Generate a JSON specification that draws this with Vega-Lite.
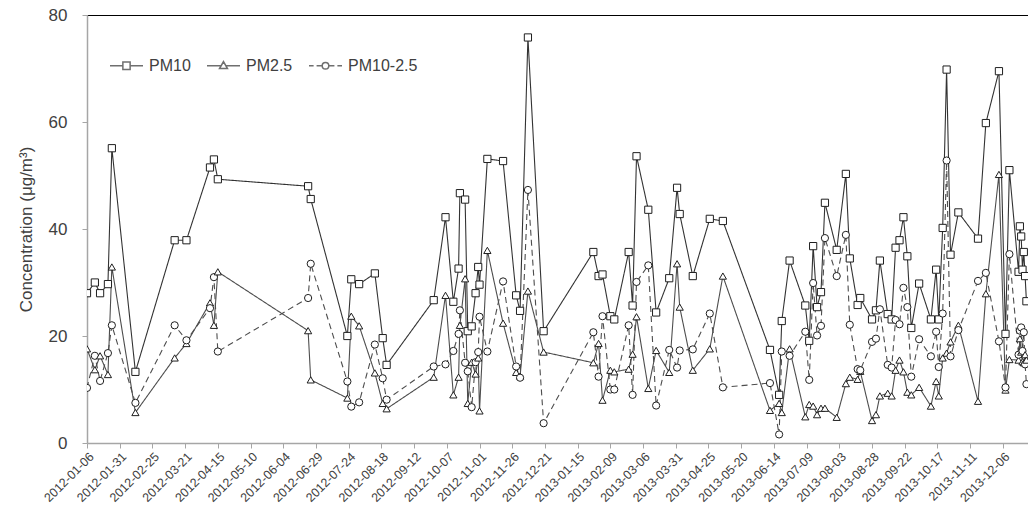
{
  "$schema": "https://vega.github.io/schema/vega-lite/v6.json",
  "width": 941,
  "height": 428,
  "autosize": "none",
  "padding": {"left": 87, "top": 15, "right": 0, "bottom": 74},
  "background": "white",
  "config": {"view": {"stroke": null}, "font": "Liberation Sans"},
  "data": {
    "values": [
      {"date": "2012-01-06", "PM10": 28.0, "PM25": 17.6, "PMc": 10.3},
      {"date": "2012-01-12", "PM10": 30.0, "PM25": 13.7, "PMc": 16.3},
      {"date": "2012-01-16", "PM10": 28.0, "PM25": 16.3, "PMc": 11.6},
      {"date": "2012-01-22", "PM10": 29.7, "PM25": 12.8, "PMc": 16.8},
      {"date": "2012-01-25", "PM10": 55.1, "PM25": 32.9, "PMc": 22.0},
      {"date": "2012-02-12", "PM10": 13.3, "PM25": 5.7, "PMc": 7.5},
      {"date": "2012-03-13", "PM10": 37.9, "PM25": 15.9, "PMc": 22.0},
      {"date": "2012-03-22", "PM10": 37.9, "PM25": 18.6, "PMc": 19.2},
      {"date": "2012-04-09", "PM10": 51.5, "PM25": 26.2, "PMc": 25.2},
      {"date": "2012-04-12", "PM10": 53.0, "PM25": 22.0, "PMc": 31.0},
      {"date": "2012-04-15", "PM10": 49.3, "PM25": 32.0, "PMc": 17.1},
      {"date": "2012-06-23", "PM10": 48.0, "PM25": 21.0, "PMc": 27.1},
      {"date": "2012-06-25", "PM10": 45.6, "PM25": 11.8, "PMc": 33.5},
      {"date": "2012-07-23", "PM10": 20.0, "PM25": 8.4, "PMc": 11.5},
      {"date": "2012-07-26", "PM10": 30.6, "PM25": 23.7, "PMc": 6.8},
      {"date": "2012-08-01", "PM10": 29.7, "PM25": 21.9, "PMc": 7.6},
      {"date": "2012-08-13", "PM10": 31.7, "PM25": 13.1, "PMc": 18.4},
      {"date": "2012-08-19", "PM10": 19.6, "PM25": 7.4, "PMc": 12.1},
      {"date": "2012-08-22", "PM10": 14.6, "PM25": 6.4, "PMc": 8.1},
      {"date": "2012-09-27", "PM10": 26.7, "PM25": 12.3, "PMc": 14.3},
      {"date": "2012-10-06", "PM10": 42.2, "PM25": 27.6, "PMc": 14.7},
      {"date": "2012-10-12", "PM10": 26.4, "PM25": 9.0, "PMc": 17.2},
      {"date": "2012-10-16", "PM10": 32.6, "PM25": 12.3, "PMc": 20.4},
      {"date": "2012-10-17", "PM10": 46.7, "PM25": 22.0, "PMc": 24.8},
      {"date": "2012-10-21", "PM10": 45.5, "PM25": 30.7, "PMc": 15.0},
      {"date": "2012-10-23", "PM10": 20.9, "PM25": 7.4, "PMc": 13.4},
      {"date": "2012-10-26", "PM10": 21.8, "PM25": 15.1, "PMc": 6.7},
      {"date": "2012-10-29", "PM10": 28.0, "PM25": 12.9, "PMc": 15.1},
      {"date": "2012-10-31", "PM10": 32.9, "PM25": 15.9, "PMc": 17.0},
      {"date": "2012-11-01", "PM10": 29.6, "PM25": 6.0, "PMc": 23.6},
      {"date": "2012-11-07", "PM10": 53.1, "PM25": 36.0, "PMc": 17.1},
      {"date": "2012-11-19", "PM10": 52.7, "PM25": 22.4, "PMc": 30.2},
      {"date": "2012-11-29", "PM10": 27.6, "PM25": 13.2, "PMc": 14.3},
      {"date": "2012-12-02", "PM10": 24.7, "PM25": 12.5, "PMc": 12.2},
      {"date": "2012-12-08", "PM10": 75.8, "PM25": 28.4, "PMc": 47.3},
      {"date": "2012-12-20", "PM10": 20.9, "PM25": 17.0, "PMc": 3.7},
      {"date": "2013-01-27", "PM10": 35.7, "PM25": 15.0, "PMc": 20.7},
      {"date": "2013-01-31", "PM10": 31.2, "PM25": 18.6, "PMc": 12.4},
      {"date": "2013-02-03", "PM10": 31.5, "PM25": 8.0, "PMc": 23.7},
      {"date": "2013-02-09", "PM10": 23.7, "PM25": 13.6, "PMc": 10.0},
      {"date": "2013-02-12", "PM10": 23.1, "PM25": 13.3, "PMc": 10.0},
      {"date": "2013-02-23", "PM10": 35.7, "PM25": 13.8, "PMc": 22.0},
      {"date": "2013-02-26", "PM10": 25.7, "PM25": 16.6, "PMc": 9.0},
      {"date": "2013-03-01", "PM10": 53.6, "PM25": 23.6, "PMc": 30.1},
      {"date": "2013-03-10", "PM10": 43.6, "PM25": 10.2, "PMc": 33.2},
      {"date": "2013-03-16", "PM10": 24.4, "PM25": 17.3, "PMc": 7.0},
      {"date": "2013-03-26", "PM10": 30.8, "PM25": 13.2, "PMc": 17.4},
      {"date": "2013-04-01", "PM10": 47.7, "PM25": 33.5, "PMc": 14.1},
      {"date": "2013-04-03", "PM10": 42.8, "PM25": 25.4, "PMc": 17.3},
      {"date": "2013-04-13", "PM10": 31.2, "PM25": 13.6, "PMc": 17.5},
      {"date": "2013-04-26", "PM10": 41.9, "PM25": 17.6, "PMc": 24.2},
      {"date": "2013-05-06", "PM10": 41.5, "PM25": 31.2, "PMc": 10.4},
      {"date": "2013-06-11", "PM10": 17.4, "PM25": 6.1, "PMc": 11.2},
      {"date": "2013-06-18", "PM10": 9.0, "PM25": 7.4, "PMc": 1.6},
      {"date": "2013-06-20", "PM10": 22.8, "PM25": 5.7, "PMc": 17.1},
      {"date": "2013-06-26", "PM10": 34.1, "PM25": 17.6, "PMc": 16.3},
      {"date": "2013-07-08", "PM10": 25.7, "PM25": 4.9, "PMc": 20.8},
      {"date": "2013-07-11", "PM10": 19.1, "PM25": 7.2, "PMc": 11.8},
      {"date": "2013-07-14", "PM10": 36.8, "PM25": 6.9, "PMc": 29.9},
      {"date": "2013-07-17", "PM10": 25.4, "PM25": 5.3, "PMc": 20.1},
      {"date": "2013-07-20", "PM10": 28.2, "PM25": 6.5, "PMc": 21.9},
      {"date": "2013-07-23", "PM10": 44.9, "PM25": 6.5, "PMc": 38.3},
      {"date": "2013-08-01", "PM10": 36.1, "PM25": 4.8, "PMc": 31.2},
      {"date": "2013-08-08", "PM10": 50.3, "PM25": 11.1, "PMc": 38.9},
      {"date": "2013-08-11", "PM10": 34.5, "PM25": 12.3, "PMc": 22.1},
      {"date": "2013-08-17", "PM10": 25.8, "PM25": 11.9, "PMc": 13.8},
      {"date": "2013-08-19", "PM10": 27.1, "PM25": 13.4, "PMc": 13.6},
      {"date": "2013-08-28", "PM10": 23.1, "PM25": 4.2, "PMc": 18.9},
      {"date": "2013-08-31", "PM10": 24.8, "PM25": 5.3, "PMc": 19.5},
      {"date": "2013-09-03", "PM10": 34.1, "PM25": 8.8, "PMc": 25.0},
      {"date": "2013-09-09", "PM10": 24.1, "PM25": 9.3, "PMc": 14.6},
      {"date": "2013-09-12", "PM10": 23.1, "PM25": 8.8, "PMc": 14.1},
      {"date": "2013-09-15", "PM10": 36.5, "PM25": 13.6, "PMc": 23.0},
      {"date": "2013-09-18", "PM10": 37.9, "PM25": 15.5, "PMc": 22.2},
      {"date": "2013-09-21", "PM10": 42.2, "PM25": 13.3, "PMc": 29.0},
      {"date": "2013-09-24", "PM10": 34.9, "PM25": 9.5, "PMc": 25.4},
      {"date": "2013-09-27", "PM10": 21.5, "PM25": 9.0, "PMc": 12.4},
      {"date": "2013-10-03", "PM10": 29.8, "PM25": 10.4, "PMc": 19.4},
      {"date": "2013-10-12", "PM10": 23.1, "PM25": 6.9, "PMc": 16.2},
      {"date": "2013-10-16", "PM10": 32.4, "PM25": 11.5, "PMc": 20.8},
      {"date": "2013-10-18", "PM10": 23.1, "PM25": 8.8, "PMc": 14.2},
      {"date": "2013-10-21", "PM10": 40.2, "PM25": 15.9, "PMc": 24.2},
      {"date": "2013-10-24", "PM10": 69.8, "PM25": 16.8, "PMc": 52.8},
      {"date": "2013-10-27", "PM10": 35.2, "PM25": 18.9, "PMc": 16.2},
      {"date": "2013-11-02", "PM10": 43.1, "PM25": 22.0, "PMc": 21.1},
      {"date": "2013-11-17", "PM10": 38.2, "PM25": 7.8, "PMc": 30.3},
      {"date": "2013-11-23", "PM10": 59.8, "PM25": 27.9, "PMc": 31.8},
      {"date": "2013-12-03", "PM10": 69.5, "PM25": 50.2, "PMc": 19.0},
      {"date": "2013-12-08", "PM10": 20.4, "PM25": 9.9, "PMc": 10.4},
      {"date": "2013-12-11", "PM10": 51.0, "PM25": 15.6, "PMc": 35.3},
      {"date": "2013-12-18", "PM10": 32.0, "PM25": 15.5, "PMc": 16.5},
      {"date": "2013-12-19", "PM10": 40.5, "PM25": 19.5, "PMc": 21.0},
      {"date": "2013-12-20", "PM10": 38.6, "PM25": 17.0, "PMc": 21.6},
      {"date": "2013-12-21", "PM10": 32.4, "PM25": 15.2, "PMc": 17.2},
      {"date": "2013-12-22", "PM10": 35.7, "PM25": 15.0, "PMc": 20.7},
      {"date": "2013-12-23", "PM10": 31.2, "PM25": 16.5, "PMc": 14.7},
      {"date": "2013-12-24", "PM10": 26.5, "PM25": 15.5, "PMc": 11.0}
    ]
  },
  "transform": [{"fold": ["PM10", "PM25", "PMc"], "as": ["series", "value"]}],
  "encoding": {
    "x": {
      "field": "date",
      "type": "temporal",
      "scale": {
        "type": "utc",
        "domain": [
          {"year": 2012, "month": 1, "date": 6, "utc": true},
          {"year": 2013, "month": 12, "date": 25, "hours": 5, "utc": true}
        ]
      },
      "axis": {
        "title": null,
        "grid": false,
        "format": "%Y-%m-%d",
        "values": [
          {"year": 2012, "month": 1, "date": 6, "utc": true},
          {"year": 2012, "month": 1, "date": 31, "utc": true},
          {"year": 2012, "month": 2, "date": 25, "utc": true},
          {"year": 2012, "month": 3, "date": 21, "utc": true},
          {"year": 2012, "month": 4, "date": 15, "utc": true},
          {"year": 2012, "month": 5, "date": 10, "utc": true},
          {"year": 2012, "month": 6, "date": 4, "utc": true},
          {"year": 2012, "month": 6, "date": 29, "utc": true},
          {"year": 2012, "month": 7, "date": 24, "utc": true},
          {"year": 2012, "month": 8, "date": 18, "utc": true},
          {"year": 2012, "month": 9, "date": 12, "utc": true},
          {"year": 2012, "month": 10, "date": 7, "utc": true},
          {"year": 2012, "month": 11, "date": 1, "utc": true},
          {"year": 2012, "month": 11, "date": 26, "utc": true},
          {"year": 2012, "month": 12, "date": 21, "utc": true},
          {"year": 2013, "month": 1, "date": 15, "utc": true},
          {"year": 2013, "month": 2, "date": 9, "utc": true},
          {"year": 2013, "month": 3, "date": 6, "utc": true},
          {"year": 2013, "month": 3, "date": 31, "utc": true},
          {"year": 2013, "month": 4, "date": 25, "utc": true},
          {"year": 2013, "month": 5, "date": 20, "utc": true},
          {"year": 2013, "month": 6, "date": 14, "utc": true},
          {"year": 2013, "month": 7, "date": 9, "utc": true},
          {"year": 2013, "month": 8, "date": 3, "utc": true},
          {"year": 2013, "month": 8, "date": 28, "utc": true},
          {"year": 2013, "month": 9, "date": 22, "utc": true},
          {"year": 2013, "month": 10, "date": 17, "utc": true},
          {"year": 2013, "month": 11, "date": 11, "utc": true},
          {"year": 2013, "month": 12, "date": 6, "utc": true}
        ],
        "labelAngle": -45,
        "labelAlign": "right",
        "labelBaseline": "top",
        "labelFont": "Liberation Sans",
        "labelFontSize": 12.5,
        "labelColor": "#404040",
        "labelPadding": 2,
        "labelFlush": false,
        "labelOverlap": false,
        "tickSize": 5,
        "tickColor": "#a6a6a6",
        "domainColor": "#a6a6a6",
        "domainWidth": 1.5
      }
    },
    "y": {
      "field": "value",
      "type": "quantitative",
      "scale": {"domain": [0, 80], "nice": false},
      "axis": {
        "values": [0, 20, 40, 60, 80],
        "title": "Concentration (μg/m³)",
        "titleFont": "Liberation Sans",
        "titleFontSize": 17,
        "titleFontWeight": "normal",
        "titleColor": "#404040",
        "titlePadding": 13,
        "labelFont": "Liberation Sans",
        "labelFontSize": 17,
        "labelColor": "#404040",
        "labelPadding": 15,
        "tickSize": 5,
        "tickColor": "#a6a6a6",
        "domainColor": "#a6a6a6",
        "domainWidth": 1.5,
        "grid": true,
        "gridColor": "#000000",
        "gridWidth": 1.2,
        "gridOpacity": {"condition": {"test": "datum.value === 80", "value": 1}, "value": 0}
      }
    }
  },
  "layer": [
    {
      "mark": {"type": "line", "strokeWidth": 1.1, "clip": true},
      "encoding": {
        "color": {
          "field": "series",
          "type": "nominal",
          "scale": {"domain": ["PM10", "PM25", "PMc"], "range": ["#333333", "#4d4d4d", "#4d4d4d"]},
          "legend": null
        },
        "strokeDash": {
          "field": "series",
          "type": "nominal",
          "scale": {"domain": ["PM10", "PM25", "PMc"], "range": [[1, 0], [1, 0], [6, 4]]},
          "legend": null
        }
      }
    },
    {
      "mark": {"type": "point", "fill": "white", "fillOpacity": 1, "stroke": "#1f1f1f", "strokeWidth": 1, "opacity": 1, "size": 52, "clip": true},
      "encoding": {
        "shape": {
          "field": "series",
          "type": "nominal",
          "scale": {"domain": ["PM10", "PM25", "PMc"], "range": ["square", "triangle-up", "circle"]},
          "legend": null
        }
      }
    },
    {
      "mark": {"type": "point", "fill": "white", "stroke": "#333333", "strokeWidth": 1, "clip": true},
      "encoding": {
        "y": {"datum": -40},
        "shape": {
          "field": "series",
          "type": "nominal",
          "scale": {
            "domain": ["PM10", "PM25", "PMc"],
            "range": [
              "M-1,0H-0.22M0.22,0H1M-0.22,-0.22H0.22V0.22H-0.22Z",
              "M-1,0H-0.14M0.14,0H1M0,-0.25L0.24,0.17H-0.24Z",
              "M-1,0H-0.72M-0.54,0H-0.2M0.2,0H0.54M0.72,0H1M-0.2,0A0.2,0.2,0,1,1,0.2,0A0.2,0.2,0,1,1,-0.2,0Z"
            ]
          },
          "legend": {
            "title": null,
            "orient": "none",
            "legendX": 22,
            "legendY": 33,
            "direction": "horizontal",
            "symbolSize": 1089,
            "labelFont": "Liberation Sans",
            "labelFontSize": 16,
            "labelColor": "#404040",
            "labelOffset": 5,
            "columnPadding": 13,
            "labelExpr": "datum.label == 'PM25' ? 'PM2.5' : datum.label == 'PMc' ? 'PM10-2.5' : datum.label"
          }
        }
      }
    }
  ],
  "resolve": {"scale": {"shape": "independent"}, "legend": {"shape": "independent"}}
}
